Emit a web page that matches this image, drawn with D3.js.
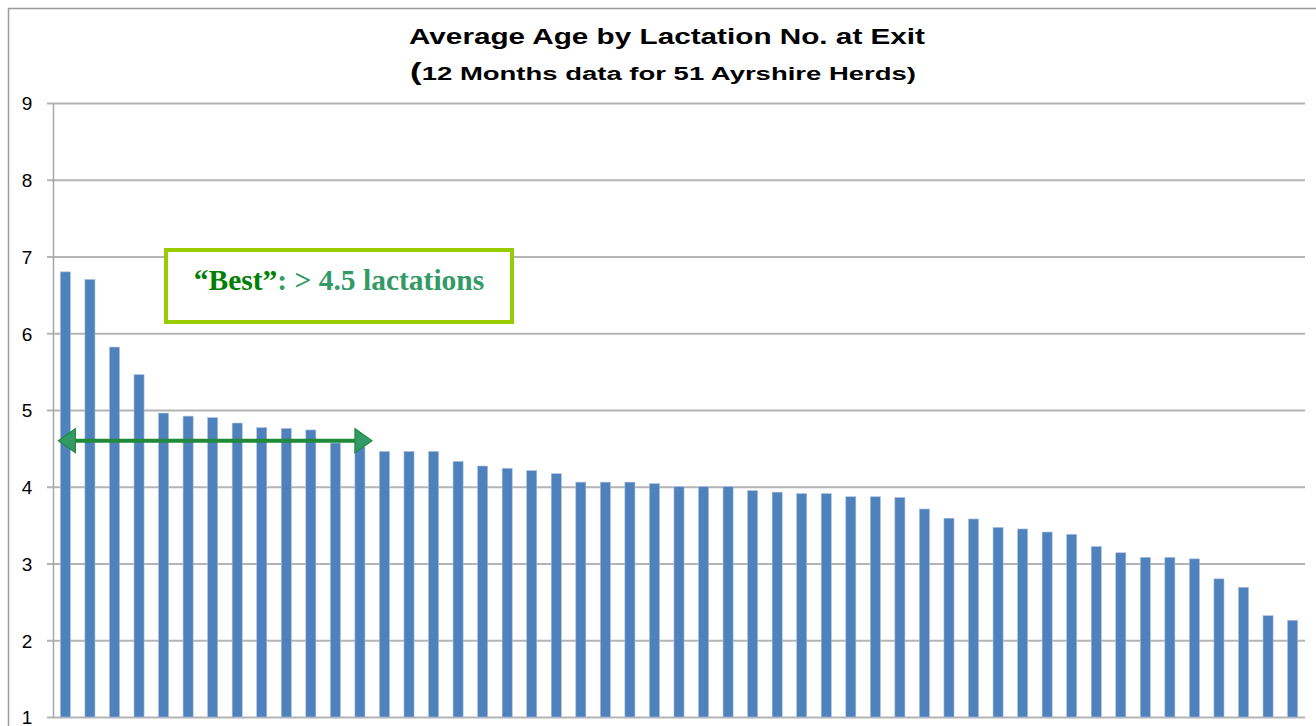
<!DOCTYPE html>
<html>
<head>
<meta charset="utf-8">
<script src="https://cdn.jsdelivr.net/npm/d3@7"></script>
<style>
  body { margin: 0; background: #fff; }
  svg { display: block; }
</style>
</head>
<body>
<script>
// herds, sorted by average lactation no. at exit
var herds = d3.range(1, 52).map(function(i) { return "H" + i; });
var avgLact = [6.80, 6.70, 5.82, 5.46, 4.96, 4.92, 4.90, 4.83, 4.77, 4.76,
               4.74, 4.57, 4.52, 4.46, 4.46, 4.46, 4.33, 4.27, 4.24, 4.21,
               4.17, 4.06, 4.06, 4.06, 4.04, 4.00, 4.00, 4.00, 3.95, 3.93,
               3.91, 3.91, 3.87, 3.87, 3.86, 3.71, 3.59, 3.58, 3.47, 3.45,
               3.41, 3.38, 3.22, 3.14, 3.08, 3.08, 3.06, 2.80, 2.69, 2.32,
               2.26];
var yTicks = [1, 2, 3, 4, 5, 6, 7, 8, 9];
var bestLimit = 4.6;   // level of the "best" arrow
var bestCount = 13;    // herds covered by the arrow

var W = 1316, H = 726;
var margin = {top: 103, right: 11, bottom: 9, left: 53};

var svg = d3.select("body").append("svg")
  .attr("width", W)
  .attr("height", H);

// chart frame (cropped at right & bottom)
svg.append("path")
  .attr("d", "M8.5," + H + "V8.5H" + W)
  .attr("fill", "none")
  .attr("stroke", "#9a9a9a")
  .attr("stroke-width", 1.5);

var x = d3.scaleBand()
  .domain(herds)
  .range([margin.left, W - margin.right])
  .paddingInner(0.59)
  .paddingOuter(0.3);

var y = d3.scaleLinear()
  .domain([1, 9])
  .range([H - margin.bottom, margin.top]);

// gridlines + y axis
var yAxis = d3.axisLeft(y)
  .tickValues(yTicks)
  .tickSize(-(W - margin.right - margin.left))
  .tickFormat(d3.format("d"));

var gy = svg.append("g")
  .attr("transform", "translate(" + margin.left + ",0)")
  .call(yAxis);
gy.select(".domain").remove();
gy.selectAll(".tick line")
  .attr("x1", -6)
  .attr("stroke", "#b4b4b4")
  .attr("stroke-width", 2);
gy.selectAll(".tick text")
  .attr("x", -26)
  .attr("dy", "0.36em")
  .attr("text-anchor", "middle")
  .style("font-family", "Liberation Sans, Arial, sans-serif")
  .style("font-size", "19px")
  .attr("fill", "#000");

// bars
svg.append("g").selectAll("rect")
  .data(avgLact)
  .enter()
  .append("rect")
  .attr("x", function(d, i) { return x(herds[i]); })
  .attr("y", function(d) { return y(d); })
  .attr("width", x.bandwidth())
  .attr("height", function(d) { return y(1) - y(d); })
  .attr("fill", "#4f81bd")
  .attr("stroke", "#a9c0de")
  .attr("stroke-width", 0.6);

// y axis line
svg.append("line")
  .attr("x1", margin.left + 0.5).attr("x2", margin.left + 0.5)
  .attr("y1", y(9)).attr("y2", y(1))
  .attr("stroke", "#a6a6a6")
  .attr("stroke-width", 1.5);

// titles
svg.append("text")
  .attr("x", 667).attr("y", 44)
  .attr("text-anchor", "middle")
  .style("font-family", "Liberation Sans Narrow, Liberation Sans, Arial, sans-serif")
  .style("font-weight", "bold")
  .style("font-size", "22px")
  .attr("textLength", 516)
  .attr("lengthAdjust", "spacingAndGlyphs")
  .text("Average Age by Lactation No. at Exit");

var sub = svg.append("text")
  .attr("x", 663).attr("y", 80)
  .attr("text-anchor", "middle")
  .style("font-family", "Liberation Sans Narrow, Liberation Sans, Arial, sans-serif")
  .style("font-weight", "bold")
  .style("font-size", "18px")
  .attr("textLength", 506)
  .attr("lengthAdjust", "spacingAndGlyphs");
sub.append("tspan").style("font-size", "23px").text("(");
sub.append("tspan").text("12 Months data for  51 Ayrshire Herds)");

// "Best" annotation box
svg.append("rect")
  .attr("x", 166).attr("y", 250)
  .attr("width", 346).attr("height", 72)
  .attr("fill", "#fff")
  .attr("stroke", "#99cc00")
  .attr("stroke-width", 4);

var best = svg.append("text")
  .attr("x", 339).attr("y", 290)
  .attr("text-anchor", "middle")
  .style("font-family", "Liberation Serif, Times New Roman, serif")
  .style("font-weight", "bold")
  .style("font-size", "29.5px");
best.append("tspan").attr("fill", "#008000").text("\u201cBest\u201d");
best.append("tspan").attr("fill", "#339966").text(": > 4.5 lactations");

// double-headed arrow over the best herds
var ay = y(bestLimit);
var ax0 = x(herds[0]) - 2;
var ax1 = x(herds[bestCount - 1]) + x.bandwidth() + 7;
var hl = 17, hh = 12;
svg.append("line")
  .attr("x1", ax0 + hl).attr("x2", ax1 - hl)
  .attr("y1", ay).attr("y2", ay)
  .attr("stroke", "#1f8a3a")
  .attr("stroke-width", 4);
svg.append("path")
  .attr("d", "M" + ax0 + "," + ay + "L" + (ax0 + hl) + "," + (ay - hh) + "V" + (ay + hh) + "Z" +
             "M" + ax1 + "," + ay + "L" + (ax1 - hl) + "," + (ay - hh) + "V" + (ay + hh) + "Z")
  .attr("fill", "#339966")
  .attr("stroke", "#1f8a3a")
  .attr("stroke-width", 1.2);
</script>
</body>
</html>
